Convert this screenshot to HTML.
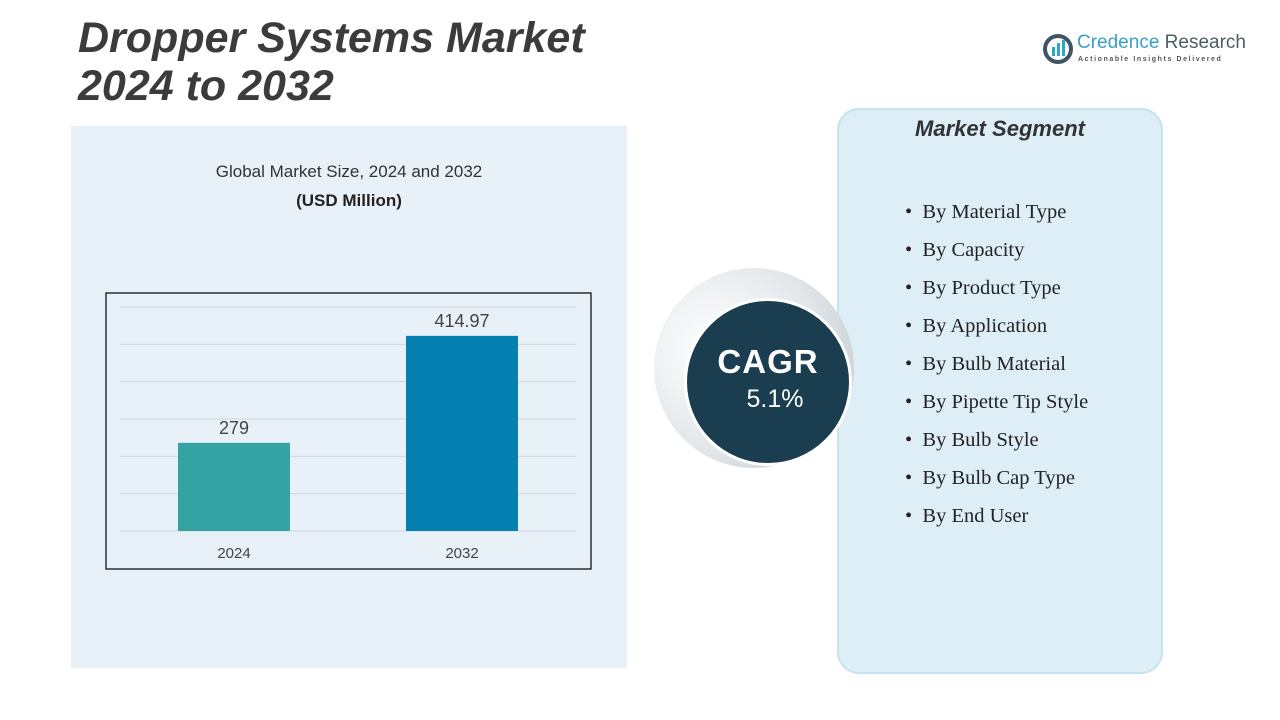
<!DOCTYPE html>
<html><head><meta charset="utf-8"><style>
body{margin:0;width:1280px;height:720px;overflow:hidden;background:#fff;font-family:"Liberation Sans",sans-serif;position:relative}
.abs{position:absolute}
</style></head><body>
<div class="abs" style="left:71px;top:126px;width:556px;height:542px;background:#e9f1f8"></div>
<div class="abs" style="left:78px;top:14px;font-size:43px;font-weight:bold;font-style:italic;color:#3b3b3b;line-height:48px">Dropper Systems Market<br>2024 to 2032</div>
<div class="abs" style="left:1042px;top:32px;width:210px;height:36px">
<svg width="32" height="32" class="abs" style="left:0;top:1px"><circle cx="16" cy="16" r="13" fill="none" stroke="#3d5566" stroke-width="4"/><rect x="10" y="14" width="3" height="9" fill="#2aa8c8"/><rect x="15" y="10" width="3" height="13" fill="#2aa8c8"/><rect x="20" y="7" width="3" height="16" fill="#2aa8c8"/></svg>
<div class="abs" style="left:35px;top:0;font-size:19px;color:#3a9fc4;white-space:nowrap">Credence <span style="color:#4c5d6a">Research</span></div>
<div class="abs" style="left:36px;top:24px;font-size:7px;letter-spacing:1.6px;color:#555;white-space:nowrap;font-weight:bold">Actionable Insights Delivered</div>
</div>
<div class="abs" style="left:71px;width:556px;top:162px;text-align:center;font-size:17px;color:#333">Global Market Size, 2024 and 2032</div>
<div class="abs" style="left:71px;width:556px;top:191px;text-align:center;font-size:17px;font-weight:bold;color:#222">(USD Million)</div>
<svg class="abs" style="left:0;top:0" width="1280" height="720" id="chart">
<rect x="106" y="293" width="485" height="276" fill="none" stroke="#111" stroke-width="1.3"/>
</svg>
<script>
const categories=["2024","2032"];
const values=[279,414.97];
const labels=["279","414.97"];
const colors=["#33a3a3","#0680b0"];
const svg=document.getElementById('chart');
const NS="http://www.w3.org/2000/svg";
const base=531, plotTop=307, dMin=167, k=0.787;
function y(v){return base-(v-dMin)*k;}
for(let i=0;i<=6;i++){
 const l=document.createElementNS(NS,'line');
 const gy=plotTop+i*(base-plotTop)/6;
 l.setAttribute('x1',120);l.setAttribute('x2',576);l.setAttribute('y1',gy);l.setAttribute('y2',gy);
 l.setAttribute('stroke','#cfd6da');l.setAttribute('stroke-width','1');
 
 
 svg.appendChild(l);
}
const cx=[234,462], bw=112;
categories.forEach((c,i)=>{
 const r=document.createElementNS(NS,'rect');
 r.setAttribute('x',cx[i]-bw/2);r.setAttribute('y',y(values[i]));r.setAttribute('width',bw);r.setAttribute('height',base-y(values[i]));r.setAttribute('fill',colors[i]);
 
 
 svg.appendChild(r);
 const t=document.createElementNS(NS,'text');
 t.setAttribute('x',cx[i]);t.setAttribute('y',y(values[i])-9);t.setAttribute('text-anchor','middle');t.setAttribute('font-size','18');t.setAttribute('fill','#444');t.setAttribute('font-family','Liberation Sans, sans-serif');
 t.textContent=labels[i];
 
 
 svg.appendChild(t);
 const a=document.createElementNS(NS,'text');
 a.setAttribute('x',cx[i]);a.setAttribute('y',558);a.setAttribute('text-anchor','middle');a.setAttribute('font-size','15');a.setAttribute('fill','#444');a.setAttribute('font-family','Liberation Sans, sans-serif');
 a.textContent=c;
 
 
 svg.appendChild(a);
});
</script>
<div class="abs" style="left:837px;top:108px;width:326px;height:566px;background:#deeef7;border:2px solid #c5e3f0;border-radius:22px;box-sizing:border-box"></div>
<div class="abs" style="left:837px;width:326px;top:116px;text-align:center;font-size:22px;font-weight:bold;font-style:italic;color:#333">Market Segment</div>
<div class="abs" style="left:905px;top:193px;font-family:'Liberation Serif',serif;font-size:20.5px;color:#222;line-height:38px">
<div>•&nbsp; By Material Type</div>
<div>•&nbsp; By Capacity</div>
<div>•&nbsp; By Product Type</div>
<div>•&nbsp; By Application</div>
<div>•&nbsp; By Bulb Material</div>
<div>•&nbsp; By Pipette Tip Style</div>
<div>•&nbsp; By Bulb Style</div>
<div>•&nbsp; By Bulb Cap Type</div>
<div>•&nbsp; By End User</div>
</div>
<div class="abs" style="left:654px;top:268px;width:200px;height:200px;border-radius:50%;background:radial-gradient(circle at 30% 40%,#ffffff 0%,#e3e7ea 55%,#b9c1c6 100%)"></div>
<div class="abs" style="left:684px;top:298px;width:168px;height:168px;border-radius:50%;background:#1a3d4f;border:3px solid #fff;box-sizing:border-box;color:#fff;text-align:center">
<div style="margin-top:42px;font-size:33px;font-weight:bold;letter-spacing:1px">CAGR</div>
<div style="font-size:25px;margin-top:4px;padding-left:14px">5.1%</div>
</div>
</body></html>
